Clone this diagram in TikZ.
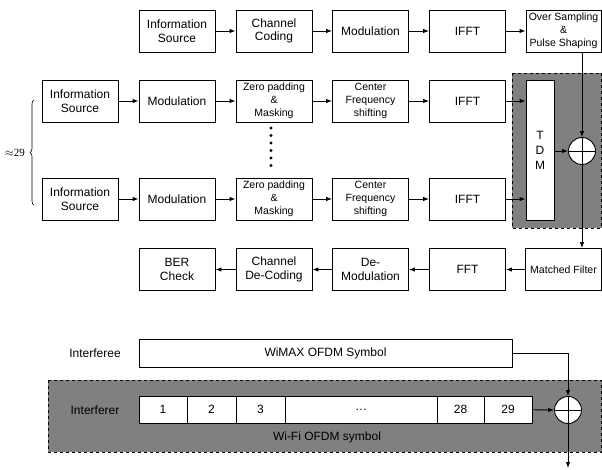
\documentclass[tikz,border=0pt]{standalone}
\usepackage{fontspec}
\setmainfont{Liberation Sans}
\newfontfamily\numfont{Liberation Serif}
\usepackage{tikz}
\usetikzlibrary{arrows.meta}
\usetikzlibrary{decorations.pathreplacing}

\begin{document}
\begin{tikzpicture}[x=1pt,y=-1pt,line width=0.9pt,>={Latex[length=6pt,width=4.5pt]},
  blk/.style={draw,fill=white,minimum width=76pt,minimum height=42pt,inner sep=1pt,align=center,font=\fontsize{12}{13.5}\selectfont},
  sblk/.style={blk,font=\fontsize{10.5}{13}\selectfont},
  cell/.style={draw,fill=white,minimum height=27pt,inner sep=0pt,font=\fontsize{12}{14}\selectfont},
  adder/.style={draw,fill=white,circle,minimum size=27pt,inner sep=0pt},
  shade/.style={draw,dashed,fill=black!50},
  lbl/.style={font=\fontsize{12}{14}\selectfont}]
\useasboundingbox (0,0) rectangle (602,470);

\node[blk] (src) at (177,31) {Information\\Source};
\node[blk] (cc) at (274,31) {Channel\\Coding};
\node[blk] (mod) at (370.5,31) {Modulation};
\node[blk] (ifft) at (467.5,31) {IFFT};
\node[sblk,minimum width=75pt] (os) at (563.5,31) {Over Sampling\\\&\\Pulse Shaping};
\draw[->] (src) -- (cc);
\draw[->] (cc) -- (mod);
\draw[->] (mod) -- (ifft);
\draw[->] (ifft) -- (os);

\draw[shade] (512,73) rectangle (601.5,228);
\node[draw,fill=white,minimum width=28pt,minimum height=140pt,inner sep=0pt,align=center,font=\fontsize{12}{15}\selectfont] (tdm) at (540,150.5) {T\\D\\M};
\node[adder] (add1) at (582,151) {};
\draw (add1.north) -- (add1.south) (add1.west) -- (add1.east);

\node[blk] (srca) at (80,101) {Information\\Source};
\node[blk] (moda) at (177,101) {Modulation};
\node[sblk] (zpa) at (274,101) {Zero padding\\\&\\Masking};
\node[sblk] (cfa) at (370.5,101) {Center\\Frequency\\shifting};
\node[blk] (iffta) at (467.5,101) {IFFT};
\draw[->] (srca) -- (moda);
\draw[->] (moda) -- (zpa);
\draw[->] (zpa) -- (cfa);
\draw[->] (cfa) -- (iffta);
\draw[->] (iffta) -- (iffta -| tdm.west);

\node[blk] (srcb) at (80,199) {Information\\Source};
\node[blk] (modb) at (177,199) {Modulation};
\node[sblk] (zpb) at (274,199) {Zero padding\\\&\\Masking};
\node[sblk] (cfb) at (370.5,199) {Center\\Frequency\\shifting};
\node[blk] (ifftb) at (467.5,199) {IFFT};
\draw[->] (srcb) -- (modb);
\draw[->] (modb) -- (zpb);
\draw[->] (zpb) -- (cfb);
\draw[->] (cfb) -- (ifftb);
\draw[->] (ifftb) -- (ifftb -| tdm.west);

\foreach \k in {0,...,5}
  \fill (271,128+\k*7.5) circle (1.7);
\draw[decorate,decoration={brace,amplitude=4pt},line width=0.6pt] (34,205) -- (34,100);
\node (cnt) at (15,153) {\numfont\fontsize{11}{13}\selectfont$\approx$29};

\draw[->] (add1.east -| tdm.east) -- (add1.west);
\draw[->] (os.south -| add1) -- (add1.north);

\node[sblk] (mf) at (563.5,269.5) {Matched Filter};
\node[blk] (fft) at (467.5,269.5) {FFT};
\node[blk] (dmod) at (370.5,269.5) {De-\\Modulation};
\node[blk] (cdec) at (274,269.5) {Channel\\De-Coding};
\node[blk] (ber) at (177,269.5) {BER\\Check};
\draw[->] (add1.south) -- (add1.south |- mf.north);
\draw[->] (mf) -- (fft);
\draw[->] (fft) -- (dmod);
\draw[->] (dmod) -- (cdec);
\draw[->] (cdec) -- (ber);

\node[lbl] (ee) at (95,353) {Interferee};
\node[draw,minimum width=373pt,minimum height=28pt,inner sep=0pt,font=\fontsize{12}{14}\selectfont] (wimax) at (325.5,353) {WiMAX OFDM Symbol};

\draw[shade] (48,380) rectangle (601.5,452);
\node[lbl] (er) at (95,410) {Interferer};
\node[cell,minimum width=48pt] (c1) at (163,409.5) {1};
\node[cell,minimum width=49pt] (c2) at (211.5,409.5) {2};
\node[cell,minimum width=49pt] (c3) at (260.5,409.5) {3};
\node[cell,minimum width=152pt] (cdots) at (361,409.5) {\dots};
\node[cell,minimum width=47pt] (c28) at (460.5,409.5) {28};
\node[cell,minimum width=48pt] (c29) at (508,409.5) {29};
\node[lbl] (fi) at (327,437) {Wi-Fi OFDM symbol};
\node[adder] (add2) at (568,410) {};
\draw (add2.north) -- (add2.south) (add2.west) -- (add2.east);
\coordinate (out) at (568,468);
\draw[->] (wimax.east) -| (add2.north);
\draw[->] (c29) -- (add2.west);
\draw[->] (add2.south) -- (out);
\end{tikzpicture}
\end{document}
